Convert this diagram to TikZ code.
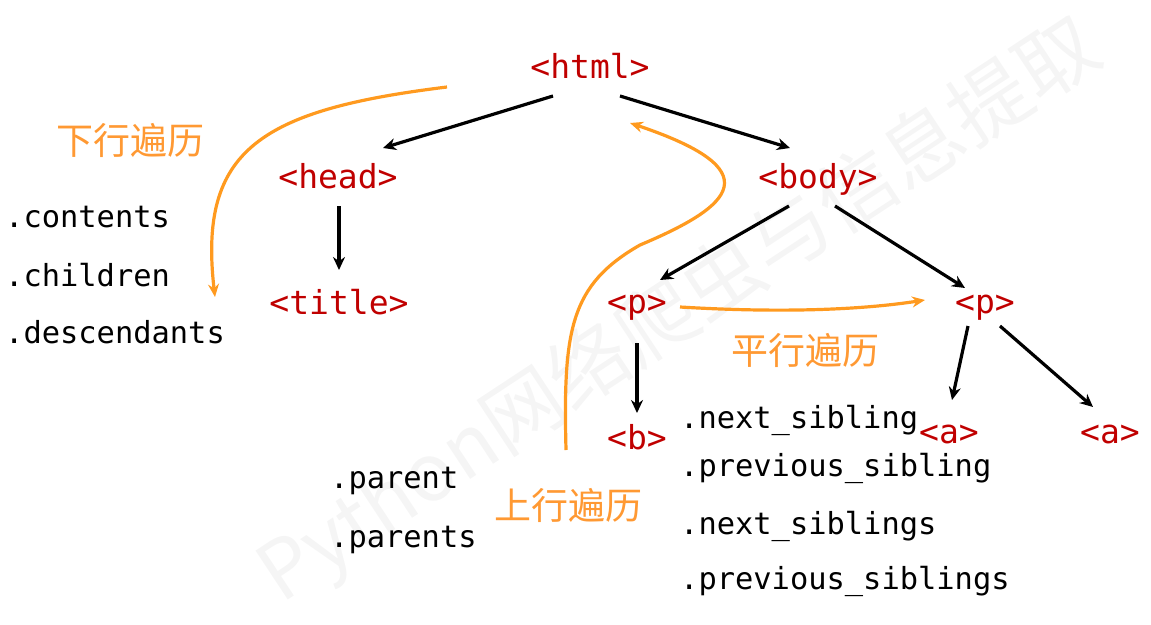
\documentclass[tikz,border=0pt]{standalone}
\usepackage{fontspec}
\setmonofont{DejaVu Sans Mono}
\newfontfamily\cjk{Noto Sans CJK SC}
\usetikzlibrary{arrows.meta}
\definecolor{tagred}{HTML}{C00000}
\definecolor{walkorange}{HTML}{FF9A1F}
\definecolor{walktext}{HTML}{FF9933}
\tikzset{
  tag/.style={anchor=base,text=tagred,font=\ttfamily\fontsize{33}{36}\selectfont,inner sep=2pt},
  method/.style={anchor=west,inner sep=0pt,font=\ttfamily\fontsize{30.4}{34}\selectfont},
  walkname/.style={text=walktext,font=\cjk\fontsize{37}{40}\selectfont,inner sep=0pt},
  link/.style={line width=3.2pt,-{Stealth[length=13pt,width=12pt]}},
  walk/.style={walkorange,line width=3.2pt,-{Stealth[length=13pt,width=11pt]}}
}
\begin{document}
\begin{tikzpicture}[x=1pt,y=-1pt]
  \useasboundingbox (0,0) rectangle (1151,624);
  % watermark
  \node[rotate=33.4,text=black!4,font=\cjk\fontsize{80}{80}\selectfont] (wm) at (680,312) {Python网络爬虫与信息提取};

  % the tags (placed on their baselines)
  \node[tag] (html)  at (590,78)  {<html>};
  \node[tag] (head)  at (338,188) {<head>};
  \node[tag] (body)  at (818,188) {<body>};
  \node[tag] (title) at (339,314) {<title>};
  \node[tag] (p1)    at (637,313) {<p>};
  \node[tag] (p2)    at (985,313) {<p>};
  \node[tag] (b)     at (637,449) {<b>};
  \node[tag] (a1)    at (949,443) {<a>};
  \node[tag] (a2)    at (1110,443) {<a>};

  % the tree
  \draw[link] ([shift={(-37,18)}]html.base) -- ([shift={(45,-40)}]head.base);
  \draw[link] ([shift={(30,18)}]html.base)  -- ([shift={(-28,-40)}]body.base);
  \draw[link] ([shift={(1,18)}]head.base)   -- ([shift={(0,-44)}]title.base);
  \draw[link] ([shift={(-29,18)}]body.base) -- ([shift={(23,-33)}]p1.base);
  \draw[link] ([shift={(17,18)}]body.base)  -- ([shift={(-20,-25)}]p2.base);
  \draw[link] ([shift={(0,30)}]p1.base)     -- ([shift={(0,-36)}]b.base);
  \draw[link] ([shift={(-17,13)}]p2.base)   -- ([shift={(3,-43)}]a1.base);
  \draw[link] ([shift={(15,13)}]p2.base)    -- ([shift={(-17,-36)}]a2.base);

  % down
  \node[walkname] (down) at (130,140) {下行遍历};
  \node[method] (contents)    at (5,217) {.contents};
  \node[method] (children)    at (5,275) {.children};
  \node[method] (descendants) at (5,332) {.descendants};
  \coordinate (downend) at (215,297);
  \draw[walk] ([shift={(-143,9)}]html.base) .. controls (260,110) and (198,150) .. (downend);

  % up
  \node[walkname] (up) at (568,505) {上行遍历};
  \node[method] (parent)  at (330,481) {.parent};
  \node[method] (parents) at (330,540) {.parents};
  \coordinate (upstart) at (566,450);
  \draw[walk] (upstart) .. controls (563,330) and (570,285) .. (640,245)
                        .. controls (735,205) and (770,170) .. ([shift={(40,45)}]html.base);

  % sideways
  \node[walkname] (side) at (805,350) {平行遍历};
  \node[method] (nsib)  at (680,420) {.next\_sibling};
  \node[method] (psib)  at (680,468) {.previous\_sibling};
  \node[method] (nsibs) at (680,526) {.next\_siblings};
  \node[method] (psibs) at (680,581) {.previous\_siblings};
  \draw[walk] ([shift={(43,-6)}]p1.base) .. controls (780,313) and (860,310) .. ([shift={(-60,-13)}]p2.base);
\end{tikzpicture}
\end{document}
